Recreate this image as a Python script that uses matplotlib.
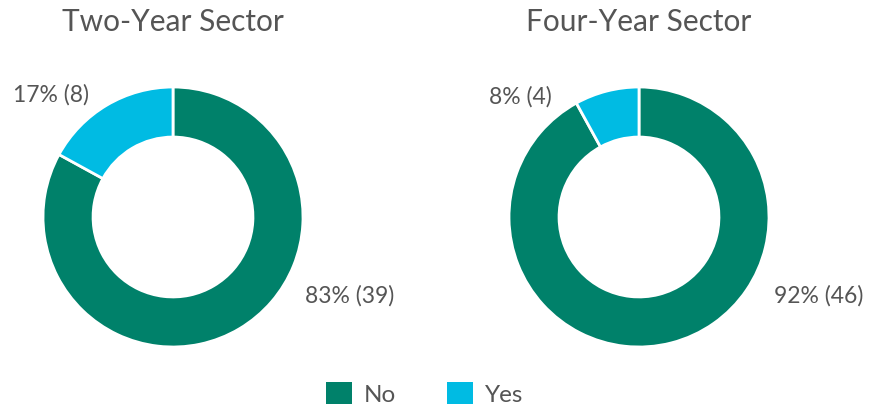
import matplotlib.pyplot as plt
from matplotlib.patches import Patch

plt.rcParams['font.family'] = ['Lato', 'DejaVu Sans']

titles = ['Two-Year Sector', 'Four-Year Sector']
categories = ['No', 'Yes']
counts = [[39, 8], [46, 4]]
pcts = [[83, 17], [92, 8]]
colors = ['#00816A', '#00BBE3']
text_color = '#555555'

fig = plt.figure(figsize=(8.7, 4.06), dpi=100)

# axes placed so each donut sits where it does in the reference
lefts = [43 / 870, 509 / 870]
# label positions (data coords, radius 1 = outer edge)
yes_pos = [(-0.94, 0.95), (-0.91, 0.93)]
no_pos = [(1.36, -0.6), (1.38, -0.6)]

for i in range(2):
    ax = fig.add_axes([lefts[i], 58 / 406, 260 / 870, 260 / 406])
    ax.pie(counts[i], colors=colors, startangle=90, counterclock=False,
           radius=1, wedgeprops=dict(width=0.385, edgecolor='white', linewidth=2))
    ax.set_xlim(-1, 1)
    ax.set_ylim(-1, 1)
    ax.set_aspect('equal')
    ax.axis('off')
    ax.text(0, 1.51, titles[i], ha='center', va='center', fontsize=21.5,
            color=text_color, clip_on=False)
    ax.text(*yes_pos[i], f'{pcts[i][1]}% ({counts[i][1]})', ha='center',
            va='center', fontsize=16.5, color=text_color, clip_on=False)
    ax.text(*no_pos[i], f'{pcts[i][0]}% ({counts[i][0]})', ha='center',
            va='center', fontsize=16.5, color=text_color, clip_on=False)

handles = [Patch(facecolor=c, edgecolor='none') for c in colors]
fig.legend(handles, categories, loc='lower center', bbox_to_anchor=(0.488, -0.055),
           ncol=2, frameon=False, fontsize=17.5, labelcolor=text_color,
           handlelength=1.05, handleheight=1.05, columnspacing=2.1, handletextpad=0.5)

fig.savefig('out.png', dpi=100)
